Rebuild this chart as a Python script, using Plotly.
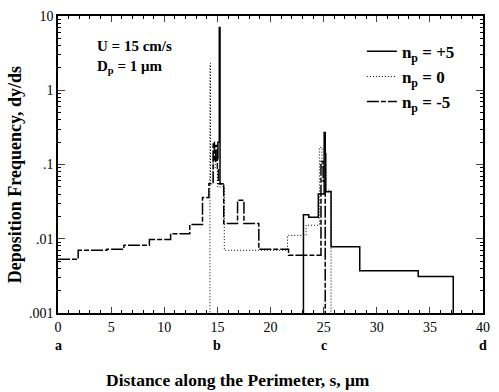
import plotly.graph_objects as go

BOTTOM = 1e-4  # value below the axis floor: line runs down to the x axis

# n_p = +5 (solid): step edges (x) and values (y); None breaks the line
pos_x = [14.9, 15.05, 15.18, 15.25, 15.6, None, 23.1, 23.1, 23.6, 24.5, 25.05, 25.15, 25.2, 25.7, 28.4, 33.9, 37.2]
pos_y = [0.12, 0.2, 7.0, 0.055, 0.055, None, BOTTOM, 0.021, 0.0195, 0.040, 0.27, 0.14, 0.043, 0.0078, 0.0037, 0.0031, BOTTOM]

# n_p = 0 (dotted)
neu_x = [14.3, 14.3, 14.35, 14.6, 14.8, 15.0, 15.65, 21.6, 23.35, 24.6, 24.85, 25.2, 25.7]
neu_y = [BOTTOM, 2.3, 0.06, 0.15, 0.09, 0.05, 0.007, 0.0111, 0.0152, 0.17, 0.09, 0.045, BOTTOM]

# n_p = -5 (dashed)
neg_x = [0, 1.9, 4.6, 6.2, 8.6, 10.6, 12.4, 13.6, 14.2, 14.6, 14.72, 14.85, 15.0, 15.1, 15.6, 16.9, 17.5, 18.9, 21.7, 24.75, 24.95, 25.15]
neg_y = [0.0053, 0.0070, 0.0072, 0.0082, 0.0098, 0.0117, 0.0155, 0.036, 0.055, 0.20, 0.11, 0.18, 0.09, 0.055, 0.016, 0.033, 0.016, 0.0072, 0.006, 0.11, 0.06, BOTTOM]

y_tickvals = [0.001, 0.01, 0.1, 1, 10]
y_ticktext = [".001", ".01", ".1", "1", "10"]
x_tickvals = [0, 5, 10, 15, 20, 25, 30, 35, 40]
corner_labels = ["a", "b", "c", "d"]
corner_x = [0, 15, 25, 40]

FONT = "Liberation Serif"

fig = go.Figure()
fig.add_trace(go.Scatter(x=pos_x, y=pos_y, mode="lines", line_shape="hv",
                         line=dict(color="black", width=1.5),
                         name="<b>n<sub>p</sub> = +5</b>"))
fig.add_trace(go.Scatter(x=neu_x, y=neu_y, mode="lines", line_shape="hv",
                         line=dict(color="black", width=1, dash="1px,2px"),
                         name="<b>n<sub>p</sub> = 0</b>"))
fig.add_trace(go.Scatter(x=neg_x, y=neg_y, mode="lines", line_shape="hv",
                         line=dict(color="black", width=1.5, dash="12px,2px,5px,2px"),
                         name="<b>n<sub>p</sub> = -5</b>"))

annotations = []
for lab, xv in zip(corner_labels, corner_x):
    annotations.append(dict(x=xv, y=-0.111, xref="x", yref="paper", xanchor="center", yanchor="middle",
                            text="<b>%s</b>" % lab, showarrow=False,
                            font=dict(family=FONT, size=14, color="black")))
annotations += [
    dict(x=0.088, y=0.899, xref="paper", yref="paper", xanchor="left", yanchor="middle",
         text="<b>U = 15 cm/s</b>", showarrow=False, font=dict(family=FONT, size=15, color="black")),
    dict(x=0.088, y=0.829, xref="paper", yref="paper", xanchor="left", yanchor="middle",
         text="<b>D<sub>p</sub> = 1 μm</b>", showarrow=False, font=dict(family=FONT, size=15, color="black")),
    dict(x=0.424, y=-0.225, xref="paper", yref="paper", xanchor="center", yanchor="middle",
         text="<b>Distance along the Perimeter, s, μm</b>",
         showarrow=False, font=dict(family=FONT, size=17.5, color="black")),
    dict(x=-0.102, y=0.466, xref="paper", yref="paper", xanchor="center", yanchor="middle",
         text="<b>Deposition Frequency, dy/ds</b>",
         textangle=-90, showarrow=False, font=dict(family=FONT, size=18, color="black")),
]

fig.update_layout(
    width=499, height=392,
    margin=dict(l=58, r=9, t=15, b=79),
    paper_bgcolor="white", plot_bgcolor="white",
    font=dict(family=FONT, size=13, color="black"),
    showlegend=True,
    legend=dict(x=0.715, y=0.94, xanchor="left", yanchor="top", bgcolor="rgba(0,0,0,0)",
                font=dict(family=FONT, size=17, color="black"), tracegroupgap=0),
    annotations=annotations,
)
fig.update_xaxes(range=[0, 40], tickvals=x_tickvals, ticks="inside", ticklen=6, tickwidth=1,
                 showline=True, linecolor="black", linewidth=1.5, mirror="ticks", showgrid=False,
                 zeroline=False, tickfont=dict(family=FONT, size=14),
                 minor=dict(ticks="inside", ticklen=3, dtick=1, tickcolor="black", showgrid=False))
fig.update_yaxes(type="log", range=[-3, 1], tickvals=y_tickvals, ticktext=y_ticktext,
                 ticks="inside", ticklen=7, tickwidth=1,
                 showline=True, linecolor="black", linewidth=1.5, mirror="ticks", showgrid=False,
                 zeroline=False, tickfont=dict(family=FONT, size=14),
                 minor=dict(ticks="inside", ticklen=3, dtick="D1", tickcolor="black", showgrid=False))

fig.write_html("out.html")
